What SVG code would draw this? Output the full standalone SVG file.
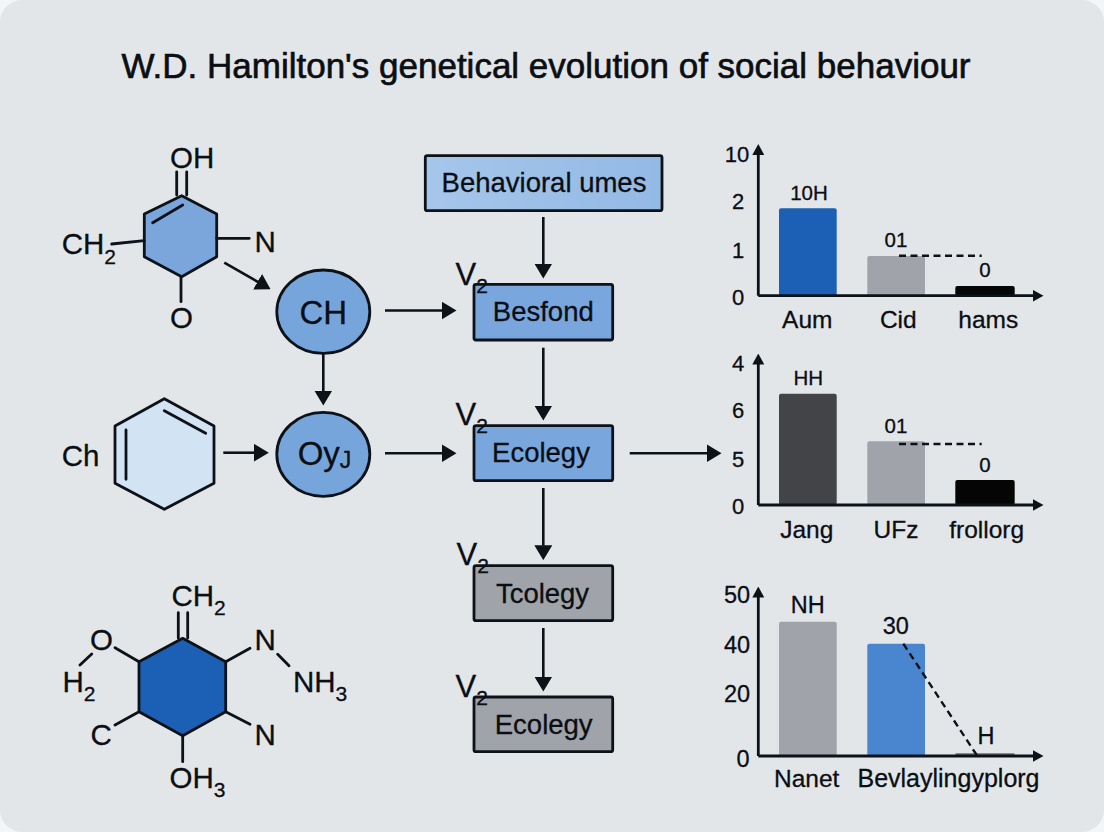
<svg xmlns="http://www.w3.org/2000/svg" width="1104" height="832" viewBox="0 0 1104 832">
<style>
text{font-family:"Liberation Sans",Arial,sans-serif;fill:#0b0e13;stroke:#0b0e13;stroke-width:.3}
.chem{font-size:29.5px}
.sub{font-size:21px}
.v{font-size:31px}
.box{font-size:27.5px;text-anchor:middle}
.circ{font-size:33px;text-anchor:middle}
.tick{font-size:22px;text-anchor:middle}
.tick3{font-size:23.5px;text-anchor:middle}
.val{font-size:20.5px;text-anchor:middle}
.cat{font-size:24.5px;text-anchor:middle}
.long{font-size:25px}
.title{font-size:35px;text-anchor:middle;stroke-width:.65}
.s{stroke:#0d1218;stroke-width:2.8;fill:none;stroke-linejoin:round;stroke-linecap:round}
.shape{stroke:#0d1218;stroke-width:2.8;stroke-linejoin:round}
.rect{stroke:#0d1218;stroke-width:2.8}
.conn{stroke:#0d1218;stroke-width:2.6;fill:none;marker-end:url(#arrow)}
.axis{stroke:#0d1218;stroke-width:2.8;fill:none;marker-end:url(#axhead)}
.dash{stroke:#0d1218;stroke-width:2.4;fill:none;stroke-dasharray:7 4.5}
</style>
<defs>
<marker id="arrow" markerUnits="userSpaceOnUse" markerWidth="15" markerHeight="18" viewBox="0 0 15 18" refX="0.5" refY="9" orient="auto"><path d="M0 0L15 9L0 18Z" fill="#0d1218"/></marker>
<marker id="axhead" markerUnits="userSpaceOnUse" markerWidth="11" markerHeight="12" viewBox="0 0 11 12" refX="0.5" refY="6" orient="auto"><path d="M0 0L11 6L0 12Z" fill="#0d1218"/></marker>
<linearGradient id="lightbox" x1="0" y1="0" x2="1" y2="0"><stop offset="0" stop-color="#a6c6ea"/><stop offset="1" stop-color="#93b9e5"/></linearGradient>
</defs>
<rect width="1104" height="832" fill="#f4f5f6"/>
<rect x="0" y="0" width="1104" height="832" rx="22" fill="#e3e6e9"/>
<text class="title" x="546" y="78">W.D. Hamilton's genetical evolution of social behaviour</text>

<g id="molecule-1">
<path class="shape" fill="#7ba6dc" d="M181.7 195.7L216.7 214V256.7L181.7 276.7L144.3 256.7V214Z"/>
<path class="s" d="M176.7 172V195M186.7 172V195M152.7 222.7L182.7 205M111.7 244L144.3 240.7M216.7 238.3H249.3M181 276.7V301.7"/>
<text class="chem" x="170" y="167.7">OH</text>
<text class="chem" x="61.7" y="254.3">CH<tspan class="sub" dy="9.7">2</tspan></text>
<text class="chem" x="254.5" y="251.7">N</text>
<text class="chem" x="170" y="328">O</text>
</g>
<g id="molecule-2">
<path class="shape" fill="#d2e3f3" d="M164.3 398.7L214 426V483.3L164.3 509.3L115 483.3V426Z"/>
<path class="s" d="M164.3 410.7L205.7 433.3M126 430V479.3"/>
<text class="chem" x="61.7" y="465.5">Ch</text>
</g>
<g id="molecule-3">
<path class="shape" fill="#1b60b5" d="M182.7 638.3L225.7 661.7V711.7L182.7 735.7L139 711.7V661.7Z"/>
<path class="s" d="M178.3 612.7V638M187.7 612.7V638M115 647.7L139 661.7M80 665L91.7 654M115 725L139 711.7M225.7 661.7L250 648.3M225.7 711.7L250 724.3M182.7 735.7V761.7M277.7 654.3L289 665.7"/>
<text class="chem" x="171.5" y="606">CH<tspan class="sub" dy="9">2</tspan></text>
<text class="chem" x="90" y="650">O</text>
<text class="chem" x="62.5" y="691.7">H<tspan class="sub" dy="9">2</tspan></text>
<text class="chem" x="254.5" y="650">N</text>
<text class="chem" x="293" y="691.7">NH<tspan class="sub" dy="9">3</tspan></text>
<text class="chem" x="90.5" y="745">C</text>
<text class="chem" x="254.5" y="745">N</text>
<text class="chem" x="169.5" y="788">OH<tspan class="sub" dy="9">3</tspan></text>
</g>

<g id="node-ch"><ellipse class="shape" cx="323.3" cy="311.7" rx="46.5" ry="41.7" fill="#76a5dc"/><text class="circ" x="323.3" y="324.3">CH</text></g>
<g id="node-oyj"><ellipse class="shape" cx="323.3" cy="454.3" rx="46.5" ry="42" fill="#76a5dc"/><text class="circ" x="324.5" y="465">Oy<tspan font-size="23" dy="3">J</tspan></text></g>

<g id="node-behavioral"><rect class="rect" x="425.3" y="155.7" width="236.7" height="55" rx="2" fill="url(#lightbox)"/><text class="box" x="544" y="192">Behavioral umes</text></g>
<g id="node-besfond"><rect class="rect" x="474" y="284.3" width="138.7" height="55.7" rx="2" fill="#7aa6de"/><text class="box" x="543.3" y="321">Besfond</text><text class="v" x="455.5" y="285">V<tspan class="sub" dy="8">2</tspan></text></g>
<g id="node-ecolegy"><rect class="rect" x="474" y="425.7" width="138.7" height="55" rx="2" fill="#7aa6de"/><text class="box" x="541" y="462">Ecolegy</text><text class="v" x="455.5" y="425">V<tspan class="sub" dy="8">2</tspan></text></g>
<g id="node-tcolegy"><rect class="rect" x="474" y="565.7" width="138.7" height="55" rx="2" fill="#a0a3a9"/><text class="box" x="542.5" y="603">Tcolegy</text><text class="v" x="456.5" y="565">V<tspan class="sub" dy="8">2</tspan></text></g>
<g id="node-ecology"><rect class="rect" x="474" y="697" width="138.7" height="54.7" rx="2" fill="#a0a3a9"/><text class="box" x="543.7" y="734">Ecolegy</text><text class="v" x="455.5" y="696.7">V<tspan class="sub" dy="8">2</tspan></text></g>

<g id="connectors">
<path class="conn" d="M224.3 262.7L258 282"/>
<path class="conn" d="M323.3 353.7V391"/>
<path class="conn" d="M223.3 452.7H254.3"/>
<path class="conn" d="M385 310.5H442"/>
<path class="conn" d="M385 453.3H442"/>
<path class="conn" d="M543.3 217V264"/>
<path class="conn" d="M543.3 347.7V406"/>
<path class="conn" d="M543.3 488V545.7"/>
<path class="conn" d="M543.3 628V677"/>
<path class="conn" d="M629.7 453.3H707"/>
</g>

<g id="chart-1">
<rect x="779" y="208.3" width="57.7" height="87.4" rx="2" fill="#1b60b5"/>
<rect x="867.3" y="256" width="57.7" height="39.7" rx="2" fill="#a0a3a9"/>
<rect x="955.3" y="286" width="59.4" height="9.7" rx="2" fill="#050505"/>
<path class="axis" d="M758.3 295.7V154.5"/>
<path class="axis" d="M758.3 295.7H1033"/>
<path class="dash" d="M899 255.7H981.7"/>
<text class="tick" x="737" y="161.7">10</text><text class="tick" x="738" y="209">2</text><text class="tick" x="738" y="257.7">1</text><text class="tick" x="738" y="305">0</text>
<text class="val" x="809" y="200">10H</text><text class="val" x="896" y="247.3">01</text><text class="val" x="985" y="277.3">0</text>
<text class="cat" x="807.3" y="328.3">Aum</text><text class="cat" x="898.3" y="328.3">Cid</text><text class="cat" x="988.3" y="328.3">hams</text>
</g>
<g id="chart-2">
<rect x="779" y="393.7" width="57.7" height="111.3" rx="2" fill="#434447"/>
<rect x="867.3" y="441.3" width="57.7" height="63.7" rx="2" fill="#a0a3a9"/>
<rect x="955.3" y="480" width="59.4" height="25" rx="2" fill="#050505"/>
<path class="axis" d="M758.3 505V364"/>
<path class="axis" d="M758.3 505H1033"/>
<path class="dash" d="M899 444H981.7"/>
<text class="tick" x="738" y="370.7">4</text><text class="tick" x="738" y="418.3">6</text><text class="tick" x="738" y="466.7">5</text><text class="tick" x="738" y="514">0</text>
<text class="val" x="808.3" y="385">HH</text><text class="val" x="896" y="432.7">01</text><text class="val" x="985" y="471.7">0</text>
<text class="cat" x="806.7" y="538.3">Jang</text><text class="cat" x="896" y="538.3">UFz</text><text class="cat" x="986.7" y="538.3">frollorg</text>
</g>
<g id="chart-3">
<rect x="779" y="621.7" width="57.7" height="134.3" rx="2" fill="#a0a3a9"/>
<rect x="867.3" y="643.7" width="57.7" height="112.3" rx="2" fill="#4a86d0"/>
<rect x="955.3" y="753.3" width="59.4" height="2.7" rx="1" fill="#6b6d70"/>
<path class="axis" d="M758.3 756V597"/>
<path class="axis" d="M758.3 756H1033"/>
<path class="dash" d="M903.3 643.7L976.7 755"/>
<text class="tick3" x="737" y="602.7">50</text><text class="tick3" x="737" y="652.7">40</text><text class="tick3" x="737" y="702.3">20</text><text class="tick3" x="743" y="766.7">0</text>
<text class="tick3" x="807.7" y="613.3">NH</text><text class="tick3" x="895.7" y="634">30</text><text class="tick3" x="986" y="744">H</text>
<text class="cat" x="806.7" y="786.7">Nanet</text><text class="cat long" x="948.5" y="786.7">Bevlaylingyplorg</text>
</g>
</svg>
